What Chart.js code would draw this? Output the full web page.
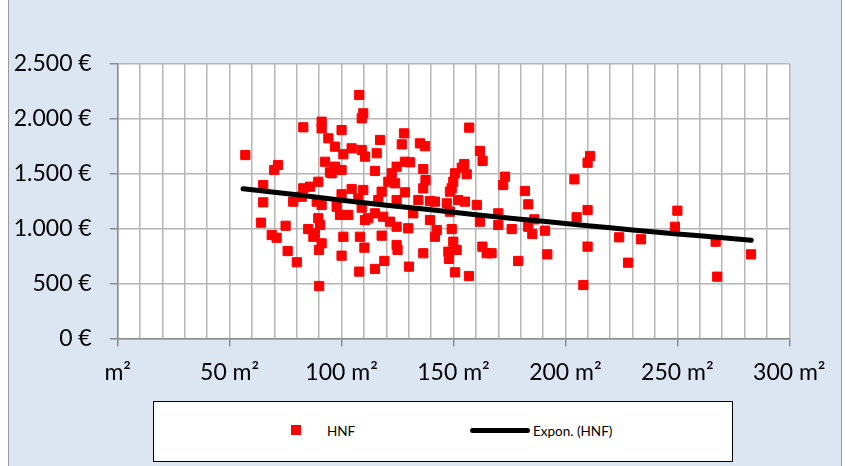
<!DOCTYPE html>
<html>
<head>
<meta charset="utf-8">
<script src="https://cdn.jsdelivr.net/npm/chart.js@4.4.1/dist/chart.umd.min.js"></script>
<style>
  html, body { margin: 0; padding: 0; background: #ffffff; width: 846px; height: 466px; overflow: hidden; }
  #bg { position: absolute; left: 8px; top: -2px; width: 832px; height: 470px; background: #dce6f2; border: 1px solid #9a9a9a; }
  #wrap { position: absolute; left: 0; top: 0; width: 846px; height: 466px; }
  #legend { position: absolute; left: 153px; top: 401px; width: 578px; height: 59px; background: #ffffff; border: 1px solid #000000; font-family: Lato, "Liberation Sans", sans-serif; font-size: 13px; color: #000; }
  .sq { position: absolute; left: 291px; top: 425px; width: 10px; height: 10px; background: #ff0000; }
  .ln { position: absolute; left: 470px; top: 428px; width: 60px; height: 5px; background: #000; border-radius: 3px; }
  .lt { position: absolute; top: 422px; font-family: Lato, "Liberation Sans", sans-serif; font-size: 13.5px; color: #000; line-height: 18px; }
</style>
</head>
<body>
<div id="bg"></div>
<div id="wrap"><canvas id="c" width="846" height="466"></canvas></div>
<div id="legend"></div>
<div class="sq"></div>
<div class="lt" id="l1" style="left:327px;">HNF</div>
<div class="ln"></div>
<div class="lt" id="l2" style="left:533px;">Expon. (HNF)</div>
<script>
// ---- data ----
const areas = [
  57, 71.6, 69.9, 65, 65, 82.9, 91.1, 91.1, 94.1, 92.6, 94.8, 89.6, 85.9, 82.9, 82.2, 78.4, 88.9, 91.1,
  89.6, 90.4, 85.1, 88.1, 87.4, 91.1, 89.9, 64, 75, 68.8, 71, 75.9, 80, 90,
  107.9, 109.7, 109, 100, 97, 117.2, 127.9, 126.9, 135, 137.3, 104.5, 109, 110.5, 100.8, 115.7, 97, 100,
  95.6, 114.9, 124.6, 128.3, 130.6, 136.5, 122.4, 120.9, 123.9, 137.5, 136.5, 104.5, 109.7, 117.9, 128.3,
  100, 97.8, 107.5, 116.4, 124.6, 134.3, 109, 132, 99.3, 103, 114.9, 118.6, 110.5, 111.9, 121.6, 124.6,
  129.8, 139.5, 100.8, 108.2, 117.9, 124.6, 125, 110.2, 136.5, 100, 119.1, 114.9, 130.1, 107.9,
  157, 161.8, 163, 154.8, 153.7, 150.7, 155.9, 173, 172.2, 149.9, 149.2, 148.4, 181.9, 139.5, 141.7, 147,
  152.1, 155.1, 160.4, 183.4, 148.4, 161.8, 170, 170, 142.5, 141.7, 149.2, 176, 149.9, 151.4, 147.7, 148,
  162.9, 164.8, 167, 150.7, 156.9, 178.9,
  211, 209.9, 204, 186.1, 183.4, 185.2, 190.9, 191.9, 205, 209.9, 209.9, 208, 224, 233.7, 228, 250,
  248.9, 267.1, 267.8, 282.9
];
const prices = [
  1668, 1577, 1532, 1395, 1238, 1920, 1971, 1911, 1820, 1607, 1511, 1425, 1380, 1365, 1289, 1244, 1244, 1214,
  1093, 1032, 995, 956, 925, 865, 805, 1053, 1025, 941, 916, 795, 693, 477,
  2214, 2047, 2002, 1895, 1744, 1805, 1865, 1765, 1774, 1748, 1729, 1714, 1653, 1675, 1684, 1562, 1532,
  1502, 1523, 1562, 1607, 1602, 1540, 1502, 1425, 1411, 1440, 1365, 1359, 1350, 1335, 1329,
  1311, 1198, 1275, 1259, 1259, 1259, 1189, 1138, 1123, 1123, 1138, 1107, 1077, 1093, 1062, 1016,
  1002, 1077, 925, 925, 935, 850, 805, 826, 775, 753, 705, 632, 653, 608,
  1917, 1705, 1614, 1586, 1553, 1502, 1493, 1471, 1395, 1425, 1365, 1335, 1341, 1250, 1244, 1229,
  1259, 1244, 1214, 1220, 1153, 1062, 1138, 1032, 986, 925, 995, 995, 880, 805, 789, 723,
  835, 775, 775, 602, 568, 705,
  1659, 1598, 1447, 1083, 1016, 950, 980, 765, 1102, 1168, 835, 486, 920, 902, 689, 1162,
  1016, 880, 562, 765
];
const trendAreas  = [56, 80, 100, 120, 140, 160, 180, 200, 220, 240, 260, 283];
const trendPrices = [1362, 1306, 1257, 1212, 1170, 1126, 1085, 1046, 1006, 968, 934, 893];
const xTickLabels = ['m²', '50 m²', '100 m²', '150 m²', '200 m²', '250 m²', '300 m²'];
const yTickLabels = ['0 €', '500 €', '1.000 €', '1.500 €', '2.000 €', '2.500 €'];
const seriesNames = ['HNF', 'Expon. (HNF)'];

const scatterData = areas.map((a, i) => ({ x: a, y: prices[i] }));
const trendData = trendAreas.map((a, i) => ({ x: a, y: trendPrices[i] }));

const plotBg = {
  id: 'plotBg',
  beforeDraw(chart) {
    const { ctx, chartArea: a } = chart;
    ctx.save();
    ctx.fillStyle = '#ffffff';
    ctx.fillRect(a.left, a.top, a.right - a.left, a.bottom - a.top);
    ctx.restore();
  }
};

const tickFont = { family: 'Lato, "Liberation Sans", sans-serif', size: 23 };

new Chart(document.getElementById('c'), {
  type: 'scatter',
  data: {
    datasets: [
      {
        label: seriesNames[1],
        data: trendData,
        showLine: true,
        borderColor: '#000000',
        borderWidth: 5,
        borderCapStyle: 'round',
        pointRadius: 0,
        tension: 0.4,
        order: 0
      },
      {
        label: seriesNames[0],
        data: scatterData,
        pointStyle: 'rect',
        pointRadius: 6.5,
        borderWidth: 1,
        backgroundColor: '#ff0000',
        borderColor: '#ff0000',
        order: 1
      }
    ]
  },
  options: {
    responsive: false,
    animation: false,
    events: [],
    layout: { padding: { left: 0, top: 63.5, right: 56.7, bottom: 0 } },
    plugins: { legend: { display: false }, tooltip: { enabled: false } },
    scales: {
      x: {
        type: 'linear',
        min: 0, max: 300,
        afterFit: s => { s.height = 127.5; },
        ticks: {
          stepSize: 10,
          autoSkip: false,
          maxRotation: 0,
          padding: 12,
          color: '#000000',
          font: tickFont,
          callback: v => (v % 50 === 0 ? xTickLabels[v / 50] : '')
        },
        grid: {
          color: '#b6b6b6',
          lineWidth: 1.5,
          tickLength: 8,
          tickColor: ctx => (ctx.tick && ctx.tick.value % 50 === 0 ? '#8c8c8c' : 'rgba(0,0,0,0)')
        },
        border: { color: '#8c8c8c', width: 1.5 }
      },
      y: {
        type: 'linear',
        min: 0, max: 2500,
        afterFit: s => { s.width = 117.7; },
        ticks: {
          stepSize: 500,
          padding: 18,
          color: '#000000',
          font: tickFont,
          callback: v => yTickLabels[v / 500]
        },
        grid: { color: '#b6b6b6', lineWidth: 1.5, tickLength: 8, tickColor: '#8c8c8c' },
        border: { color: '#8c8c8c', width: 1.5 }
      }
    }
  },
  plugins: [plotBg]
});
</script>
</body>
</html>
